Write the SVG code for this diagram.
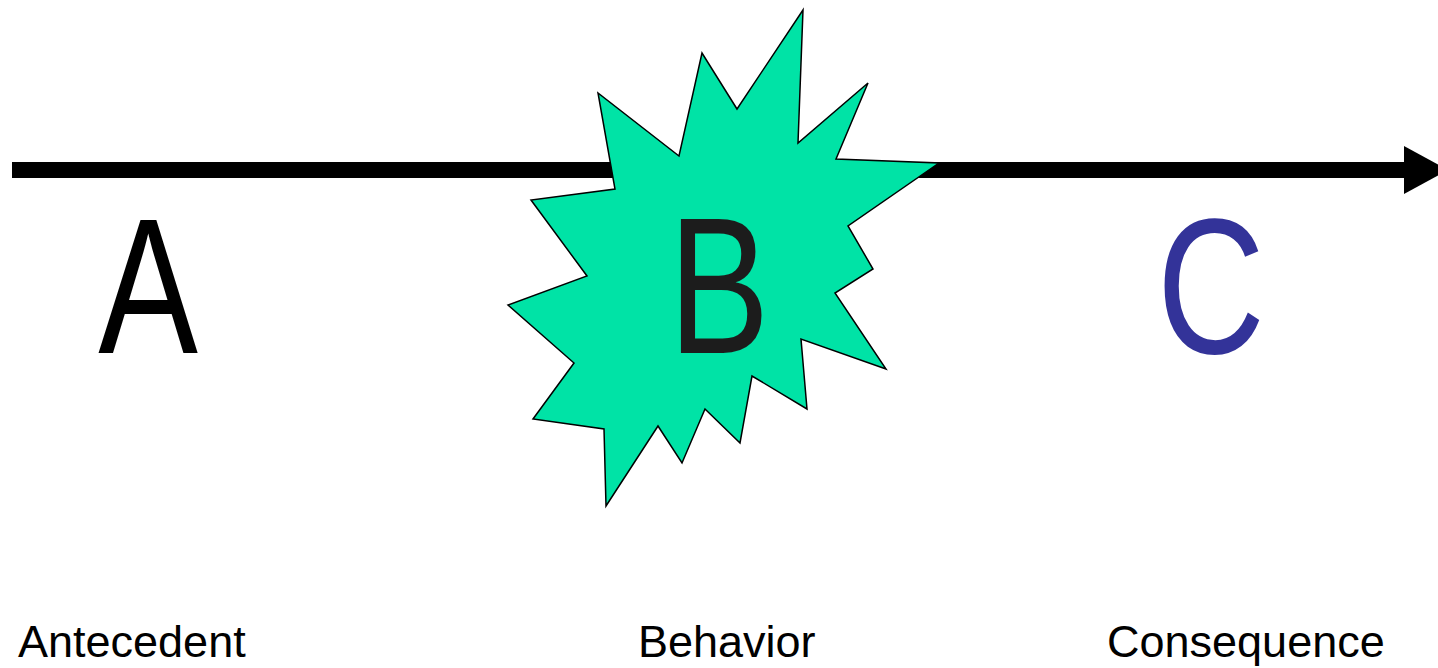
<svg xmlns="http://www.w3.org/2000/svg" width="1438" height="668" viewBox="0 0 1438 668">
<style>
.big{font-family:"Liberation Sans",Arial,sans-serif;font-size:194px;text-anchor:middle}
.lbl{font-family:"Liberation Sans",Arial,sans-serif;font-size:45px;fill:#000}
</style>
<defs>
<marker id="ah" markerUnits="userSpaceOnUse" markerWidth="50" markerHeight="50" refX="0" refY="24" orient="auto">
<path d="M0,0 L44,24 L0,48 Z" fill="#000"/>
</marker>
</defs>
<rect width="1438" height="668" fill="#fff"/>
<g id="connectors">
<line x1="12" y1="170" x2="1404" y2="170" stroke="#000" stroke-width="16" marker-end="url(#ah)"/>
</g>
<g id="burst">
<polygon points="803,10 798,143 868,83 836,159 939,163 848,226 873,269 835,293 886,369 801,339 807,409 752,376 740,443 705,409 682,463 658,426 606,506 604,429 533,419 574,363 508,305 587,276 531,200 615,189 598,93 679,156 702,53 737,109" fill="#00e3a6" stroke="#000" stroke-width="1.5" stroke-linejoin="miter"/>
</g>
<g id="nodeA"><text class="big" transform="translate(148,353) scale(0.77,1)" x="0" y="0" fill="#000">A</text></g>
<g id="nodeB"><text class="big" transform="translate(719,353) scale(0.78,1)" x="0" y="0" fill="#1c1c1c">B</text></g>
<g id="nodeC"><text class="big" transform="translate(1211,353) scale(0.77,1)" x="0" y="0" fill="#333399">C</text></g>
<g id="labels">
<text class="lbl" x="18" y="657">Antecedent</text>
<text class="lbl" x="638" y="657">Behavior</text>
<text class="lbl" x="1107" y="657">Consequence</text>
</g>
</svg>
